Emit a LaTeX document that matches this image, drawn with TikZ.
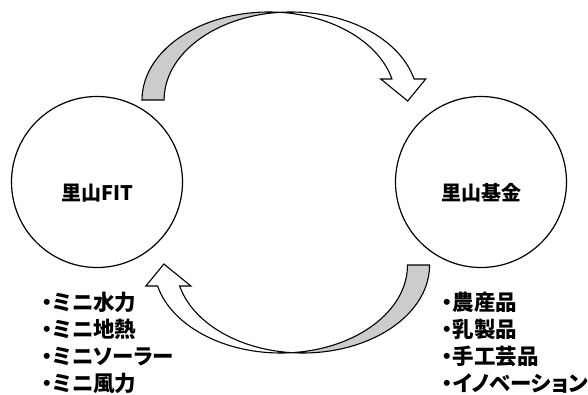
\documentclass[tikz,border=0pt]{standalone}
\usepackage{fontspec}
\newfontfamily\jp{Noto Sans CJK JP}[RawFeature=+palt]
\definecolor{bandgray}{RGB}{204,204,204}
\newcommand\arrowband{%
  \filldraw[band, fill=bandgray] (-143.8,82.5)
    arc[start angle=180, end angle=85, x radius=126.8pt, y radius=88pt]
    arc[start angle=95, end angle=180, x radius=126.8pt, y radius=88pt] -- cycle;
  \filldraw[band, fill=white] (-5.95,170.17)
    arc[start angle=95, end angle=13.8, x radius=126.8pt, y radius=88pt]
    -- (139.9,103.5) -- (121.9,81.5) -- (94.9,103.5) -- (106.14,103.5)
    arc[start angle=13.8, end angle=85, x radius=126.8pt, y radius=88pt] -- cycle;
}
\begin{document}
\begin{tikzpicture}[x=1pt,y=1pt,
  ring/.style={circle, draw, line width=1.2pt, minimum size=171pt, inner sep=0pt},
  band/.style={draw, line width=1.1pt, line join=miter},
  ctext/.style={font=\jp\bfseries\fontsize{20}{24}\selectfont, inner sep=0pt},
  ltext/.style={font=\jp\bfseries\fontsize{21.5}{25}\selectfont, inner sep=0pt, anchor=west}]
\useasboundingbox (0,0) rectangle (588,394);
\node[ring] (fit) at (97,212) {};
\node[ring] (fund) at (481,212) {};
\node[ctext] (fitlabel) at ([yshift=-11pt]fit.center) {里山FIT};
\node[ctext] (fundlabel) at ([yshift=-11pt]fund.center) {里山基金};
\begin{scope}[shift={(285.8,211.5)}]
  \arrowband
\end{scope}
\begin{scope}[shift={(285.8,211.5)}, rotate=180]
  \arrowband
\end{scope}
\node[ltext] (l1) at (42,92) {・ミニ水力};
\node[ltext] (l2) at (42,64.5) {・ミニ地熱};
\node[ltext] (l3) at (42,37.5) {・ミニソーラー};
\node[ltext] (l4) at (42,10.5) {・ミニ風力};
\node[ltext] (r1) at (442,92) {・農産品};
\node[ltext] (r2) at (442,64.5) {・乳製品};
\node[ltext] (r3) at (442,37.5) {・手工芸品};
\node[ltext] (r4) at (442,10) {・イノベーション};
\end{tikzpicture}
\end{document}
